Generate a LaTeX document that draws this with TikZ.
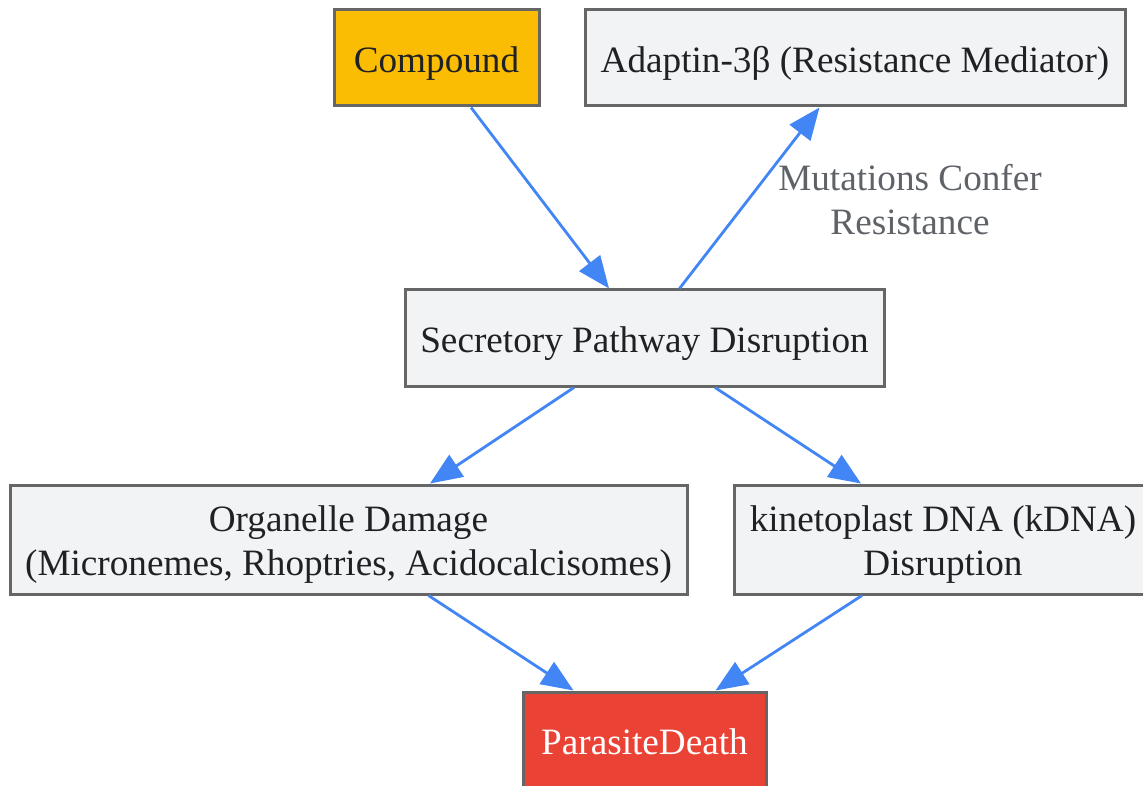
\documentclass[tikz,border=0pt]{standalone}
\usepackage{fontspec}
\setmainfont{Liberation Serif}
\usetikzlibrary{arrows.meta}
\definecolor{boxfill}{HTML}{F1F3F5}
\definecolor{boxline}{HTML}{666666}
\definecolor{flow}{HTML}{4285F4}
\definecolor{ink}{HTML}{202124}
\definecolor{lab}{HTML}{5F6368}
\definecolor{amber}{HTML}{FBBC04}
\definecolor{tomato}{HTML}{EA4335}
\tikzset{
  base/.style={font=\fontsize{37.2}{44}\selectfont},
  box/.style={base,draw=boxline,line width=3pt,fill=boxfill,text=ink,align=center,inner sep=0pt,minimum height=96pt},
  oneline/.style={box,text height=38.5pt,text depth=9pt},
  twoline/.style={box,minimum height=109pt,text height=71pt,text depth=0pt},
  flowline/.style={draw=flow,line width=2.8pt,-{Triangle[length=32pt,width=26pt]}},
  edgelabel/.style={base,text=lab,align=center,inner sep=0pt}
}
\begin{document}
\begin{tikzpicture}[x=1pt,y=-1pt]
\useasboundingbox (0,0) rectangle (1143,786);
\node[oneline,fill=amber,minimum width=205pt] (comp) at (436.5,58) {Compound};
\node[oneline,minimum width=540pt] (adap) at (855,58) {Adaptin-3β (Resistance Mediator)};
\node[oneline,minimum width=479pt] (secr) at (644.5,338) {Secretory Pathway Disruption};
\node[twoline,minimum width=677pt] (orga) at (348.5,539.5) {Organelle Damage\\(Micronemes, Rhoptries, Acidocalcisomes)};
\node[twoline,minimum width=418pt] (kine) at (943,539.5) {kinetoplast DNA (kDNA)\\Disruption};
\node[oneline,fill=tomato,text=white,minimum width=243pt] (dead) at (644.5,740) {ParasiteDeath};
\node[edgelabel] (conf) at (910,200) {Mutations Confer\\Resistance};
\draw[flowline] ([xshift=34.5pt]comp.south) -- ([xshift=-35.5pt]secr.north);
\draw[flowline] ([xshift=35pt]secr.north) -- ([xshift=-35.5pt]adap.south);
\draw[flowline] ([xshift=-70.5pt]secr.south) -- ([xshift=81.5pt]orga.north);
\draw[flowline] ([xshift=70.5pt]secr.south) -- ([xshift=-82pt]kine.north);
\draw[flowline] ([xshift=80pt]orga.south) -- ([xshift=-71pt]dead.north);
\draw[flowline] ([xshift=-81pt]kine.south) -- ([xshift=71pt]dead.north);
\end{tikzpicture}
\end{document}
